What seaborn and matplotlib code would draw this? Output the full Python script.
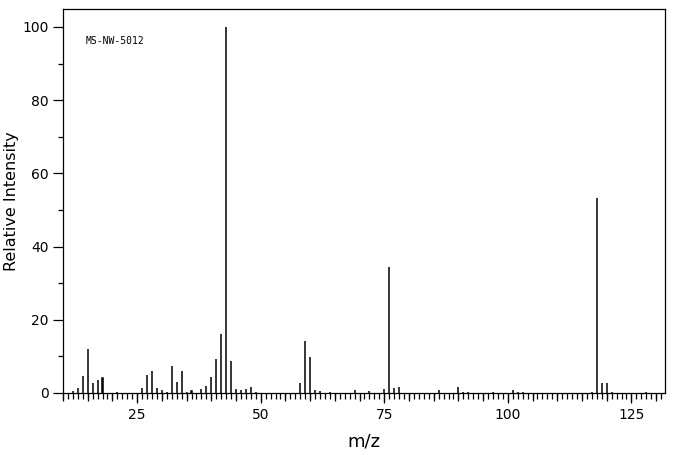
import matplotlib
matplotlib.use("Agg")
import matplotlib.pyplot as plt
import seaborn as sns
import pandas as pd
from matplotlib.ticker import MultipleLocator, NullFormatter

# --- datos del espectro ---
mz = [12, 13, 14, 15, 16, 17, 18, 21, 26, 27, 28, 29, 30, 31, 32, 33, 34, 35, 36,
      38, 39, 40, 41, 42, 43, 44, 45, 46, 47, 48, 49, 58, 59, 60, 61, 62, 64, 69,
      72, 75, 76, 77, 78, 86, 90, 91, 92, 97, 101, 102, 103, 117, 118, 119, 120,
      121, 128]
intensidad = [0.6, 1.4, 4.6, 12.0, 2.7, 3.5, 4.1, 0.3, 1.4, 4.9, 6.0, 1.4, 0.8, 0.4,
              7.4, 3.0, 6.0, 0.3, 0.5, 1.1, 1.9, 4.4, 9.3, 16.1, 100.0, 8.7, 1.1,
              0.8, 1.1, 1.6, 0.3, 2.7, 14.2, 9.8, 0.8, 0.5, 0.3, 0.8, 0.5, 1.2,
              34.5, 1.4, 1.6, 0.8, 1.6, 0.3, 0.3, 0.3, 0.8, 0.3, 0.3, 0.3, 53.2,
              2.7, 2.7, 0.3, 0.3]
etiqueta = "MS-NW-5012"

df = pd.DataFrame({"mz": mz, "int": intensidad})

sns.set_style("ticks")
plt.rcParams["font.family"] = ["DejaVu Sans"]
plt.rcParams["text.color"] = "black"
plt.rcParams["axes.labelcolor"] = "black"
plt.rcParams["xtick.color"] = "black"
plt.rcParams["ytick.color"] = "black"

fig = plt.figure(figsize=(6.76, 4.55), dpi=100)
ax = fig.add_axes([63 / 676, 62 / 455, 602 / 676, 384 / 455])

# barras finas como lineas del espectro
sns.barplot(data=df, x="mz", y="int", native_scale=True, width=0.02,
            color="black", edgecolor="black", linewidth=1.1, saturation=1, ax=ax)

ax.set_xlim(10, 131.8)
ax.set_ylim(0, 104.9)

for s in ax.spines.values():
    s.set_linewidth(0.9)
    s.set_color("black")

# ticks eje x: cada 1, cada 5 y cada 25
ax.xaxis.set_major_locator(MultipleLocator(25))
ax.xaxis.set_minor_locator(MultipleLocator(1))
ax.tick_params(axis="x", which="major", length=7.5, width=0.9, pad=3, labelsize=10)
ax.tick_params(axis="x", which="minor", length=4, width=0.9)
sec = ax.secondary_xaxis("bottom")
sec.xaxis.set_major_locator(MultipleLocator(5))
sec.xaxis.set_major_formatter(NullFormatter())
sec.tick_params(length=5.5, width=0.9, color="black")
sec.spines["bottom"].set_visible(False)

# ticks eje y
ax.yaxis.set_major_locator(MultipleLocator(20))
ax.yaxis.set_minor_locator(MultipleLocator(10))
ax.tick_params(axis="y", which="major", length=7.5, width=0.9, pad=3, labelsize=10)
ax.tick_params(axis="y", which="minor", length=3.8, width=0.9)

ax.set_xlabel("m/z", fontsize=13, labelpad=8)
ax.set_ylabel("Relative Intensity", fontsize=11.5, labelpad=2)

fig.text(86 / 676, 1 - 41 / 455, etiqueta, fontsize=7, family="DejaVu Sans Mono",
         va="center", ha="left")

fig.savefig("out.png", dpi=100)
